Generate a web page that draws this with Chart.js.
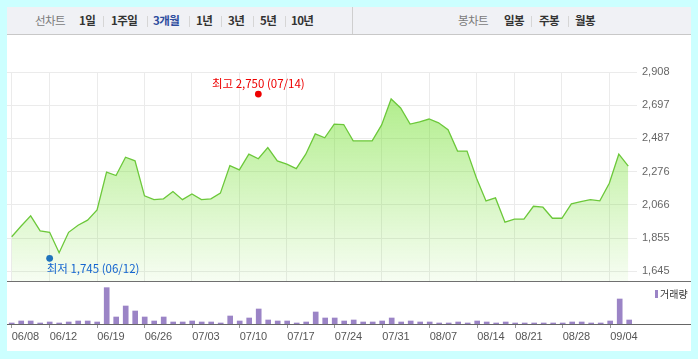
<!DOCTYPE html>
<html><head><meta charset="utf-8">
<script src="https://cdn.jsdelivr.net/npm/chart.js@4"></script>
<style>
html,body{margin:0;padding:0;background:#ccffff;width:698px;height:359px;overflow:hidden;font-family:"Noto Sans CJK KR","Noto Sans",sans-serif}
#panel{position:absolute;left:7px;top:7px;width:684px;height:344px;background:#fff}
#bar{position:absolute;left:7px;top:7px;width:684px;height:27px;background:#f0f1f5;border-bottom:1px solid #c8c8c8}
#div{position:absolute;left:352px;top:7px;width:1px;height:27px;background:#cfcfcf}
.t{position:absolute;top:12px;font-size:11.5px;line-height:17px;color:#333;font-weight:bold;letter-spacing:-0.6px;white-space:nowrap}
.g{color:#7a7a7a;font-weight:normal}
.b{color:#2d4d9e}
.s{position:absolute;top:16px;width:1px;height:11px;background:#d6d6d6}
#pc{position:absolute;left:7px;top:36px}
#vc{position:absolute;left:7px;top:282px}
#sep{position:absolute;left:7px;top:281px;width:684px;height:1px;background:#707070}
</style></head>
<body>
<div id="panel"></div>
<div id="bar"></div><div id="div"></div>
<span class="t g" style="left:35px">선차트</span>
<span class="t" style="left:79px">1일</span><span class="s" style="left:103px"></span>
<span class="t" style="left:111px">1주일</span><span class="s" style="left:147px"></span>
<span class="t b" style="left:153px">3개월</span><span class="s" style="left:189px"></span>
<span class="t" style="left:196px">1년</span><span class="s" style="left:221px"></span>
<span class="t" style="left:228px">3년</span><span class="s" style="left:253px"></span>
<span class="t" style="left:260px">5년</span><span class="s" style="left:285px"></span>
<span class="t" style="left:291px">10년</span>
<span class="t g" style="left:458px">봉차트</span>
<span class="t" style="left:504px">일봉</span><span class="s" style="left:531px"></span>
<span class="t" style="left:539px">주봉</span><span class="s" style="left:568px"></span>
<span class="t" style="left:575px">월봉</span>
<canvas id="pc" width="684" height="245"></canvas>
<div id="sep"></div>
<canvas id="vc" width="684" height="69"></canvas>
<script>
// ---- data ----
const closes = [1864,1932,1996,1901,1892,1763,1892,1937,1969,2034,
  2273,2252,2368,2345,2123,2099,2104,2150,2099,2135,
  2099,2104,2140,2315,2288,2387,2358,2429,2345,2324,
  2296,2387,2516,2491,2578,2575,2472,2472,2472,2573,
  2737,2680,2578,2592,2610,2586,2542,2407,2407,2235,
  2091,2110,1956,1975,1975,2057,2051,1981,1981,2072,
  2087,2099,2091,2203,2387,2311];
const volumes = [3,9,9,3,6,3,6,9,9,6,
  109,21,54,39,21,9,21,6,6,9,
  6,6,3,24,9,18,45,12,9,9,
  3,6,36,18,18,9,12,6,6,9,
  18,6,9,6,6,3,3,6,3,9,
  6,3,6,3,3,3,3,3,3,6,
  6,3,3,9,75,12];
const tickIndex = [0,4,9,14,19,24,29,34,39,44,49,53,58,63];
const tickLabels = ["06/08","06/12","06/19","06/26","07/03","07/10","07/17","07/24","07/31","08/07","08/14","08/21","08/28","09/04"];
const priceTicks = [1645,1855.5,2066,2276.5,2487,2697.5,2908];
const highMark = {index:26, value:2768, text:"최고 2,750 (07/14)"};
const lowMark = {index:4, value:1727, text:"최저 1,745 (06/12)"};
const volumeLabel = "거래량";

const PX = 9.486, X0 = -0.495;
const fmt = v => Math.floor(v).toLocaleString('en-US');
const noPad = s => { s.paddingTop = 0; s.paddingBottom = 0; s.paddingLeft = 0; s.paddingRight = 0; };

const notePlugin = {
  id:'notes',
  afterDatasetsDraw(chart){
    const ctx = chart.ctx;
    chart.data.datasets.forEach((ds,i)=>{
      if(!ds.note) return;
      const p = chart.getDatasetMeta(i).data[0];
      ctx.save();
      ctx.font = '11.5px "Noto Sans CJK KR", sans-serif';
      ctx.fillStyle = ds.pointBackgroundColor;
      ctx.textBaseline = 'middle';
      if(ds.noteAlign==='center'){ctx.textAlign='center';ctx.fillText(ds.note,p.x,p.y-10.5);}
      else {ctx.textAlign='left';ctx.fillText(ds.note,p.x-3,p.y+10.5);}
      ctx.restore();
    });
  }
};

new Chart(document.getElementById('pc'),{
  type:'line',
  data:{datasets:[
    {data:closes.map((v,i)=>({x:i,y:v})),borderColor:'#6cc83a',borderWidth:1.3,pointRadius:0,pointHoverRadius:0,tension:0,fill:'start',
     backgroundColor:(c)=>{const a=c.chart.chartArea; if(!a) return 'rgba(110,222,40,0.3)';
       const g=c.chart.ctx.createLinearGradient(0,a.top,0,a.bottom);
       g.addColorStop(0,'rgba(110,222,40,0.6)');g.addColorStop(1,'rgba(110,222,40,0.06)');return g;}},
    {type:'scatter',data:[{x:highMark.index,y:highMark.value}],pointRadius:3.4,pointHoverRadius:3.4,pointBackgroundColor:'#ee0000',pointBorderWidth:0,note:highMark.text,noteAlign:'center'},
    {type:'scatter',data:[{x:lowMark.index,y:lowMark.value}],pointRadius:3.4,pointHoverRadius:3.4,pointBackgroundColor:'#1565d0',pointBorderWidth:0,note:lowMark.text,noteAlign:'left'}
  ]},
  options:{responsive:false,animation:false,events:[],
    layout:{autoPadding:false,padding:{top:36,left:0,right:0,bottom:0}},
    plugins:{legend:{display:false},tooltip:{enabled:false}},
    scales:{
      x:{type:'linear',offset:false,min:X0,max:X0+630/PX,
        afterBuildTicks:s=>{s.ticks=tickIndex.map(v=>({value:v}));},
        afterFit:s=>{s.height=0;noPad(s);},
        ticks:{display:false},grid:{color:'#ebebeb',drawTicks:false},border:{display:false}},
      y:{position:'right',min:1583.4,max:2908,
        afterBuildTicks:s=>{s.ticks=priceTicks.map(v=>({value:v}));},
        afterFit:s=>{s.width=54;noPad(s);},
        ticks:{callback:v=>fmt(v),padding:5,color:'#666',font:{family:'"Liberation Sans"',size:11}},
        grid:{color:'#ebebeb',drawTicks:false},border:{display:false}}
    }},
  plugins:[notePlugin]
});

const legendPlugin = {
  id:'vlegend',
  afterDraw(chart){
    const ctx=chart.ctx;
    ctx.save();
    ctx.fillStyle='#9b84c6';
    ctx.fillRect(648,8,3,8);
    ctx.fillStyle='#333';
    ctx.font='10px "Noto Sans CJK KR", sans-serif';
    ctx.textBaseline='middle';ctx.textAlign='left';
    ctx.fillText(chart.data.datasets[0].label,653,12.5);
    ctx.restore();
  }
};

new Chart(document.getElementById('vc'),{
  type:'bar',
  data:{datasets:[{label:volumeLabel,data:volumes.map((v,i)=>({x:i,y:v})),backgroundColor:'#9b84c6',barThickness:5}]},
  options:{responsive:false,animation:false,events:[],
    layout:{autoPadding:false,padding:0},
    plugins:{legend:{display:false},tooltip:{enabled:false}},
    scales:{
      x:{type:'linear',offset:false,min:X0,max:X0+683/PX,
        afterBuildTicks:s=>{s.ticks=tickIndex.map(v=>({value:v}));},
        afterFit:s=>{s.height=27;},
        ticks:{callback:(v,i)=>tickLabels[i],align:'start',padding:2,maxRotation:0,autoSkip:false,color:'#555',font:{family:'"Liberation Sans"',size:11}},
        grid:{drawOnChartArea:false,drawTicks:true,tickLength:4,color:'#9a9a9a',offset:false},
        border:{display:true,color:'#666',width:1}},
      y:{display:false,min:0,max:126}
    }},
  plugins:[legendPlugin]
});
</script>
</body></html>
